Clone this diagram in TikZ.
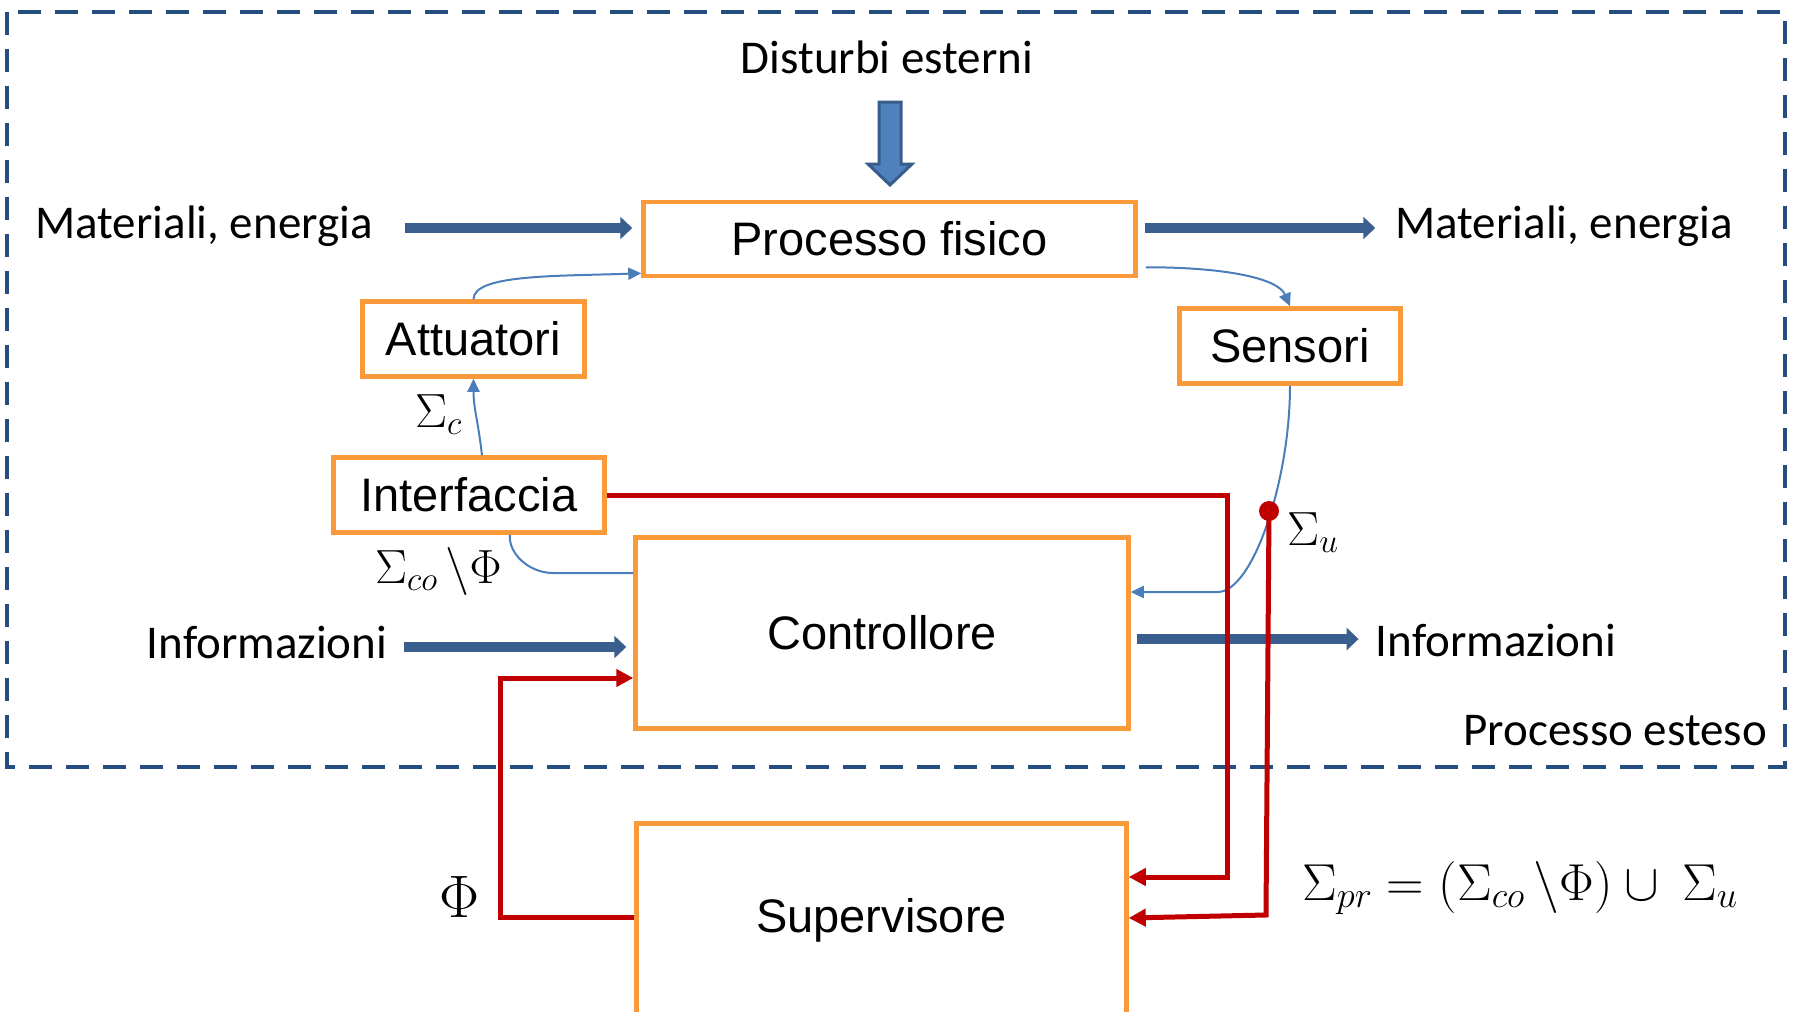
\RequirePackage{fix-cm}
\documentclass[tikz,border=0pt]{standalone}
\usepackage[no-math]{fontspec}
\setmainfont{Carlito}
\newfontfamily\arialf{Liberation Sans}
\usetikzlibrary{arrows.meta}
\definecolor{boxor}{HTML}{F9993A}
\definecolor{frameblue}{HTML}{264D80}
\definecolor{thickblue}{HTML}{3A5F8E}
\definecolor{thinblue}{HTML}{4A7EBB}
\definecolor{redc}{HTML}{C00000}
\definecolor{arrfill}{HTML}{4F81BD}
\definecolor{arrdraw}{HTML}{385D8A}
\tikzset{
  blk/.style={draw=boxor, line width=4.5pt, fill=white, font=\arialf\fontsize{47}{56}\selectfont, inner sep=0pt},
  lbl/.style={font=\fontsize{47}{56}\selectfont, inner sep=0pt, anchor=base},
  mlbl/.style={font=\fontsize{48}{56}\selectfont, inner sep=0pt, anchor=base west},
  bigarr/.style={draw=thickblue, line width=10pt, -{Triangle[length=12pt,width=22pt]}},
  thinarr/.style={draw=thinblue, line width=2pt, -{Triangle[length=13pt,width=12pt]}},
  thinline/.style={draw=thinblue, line width=2pt},
  redarr/.style={draw=redc, line width=5pt, -{Triangle[length=17pt,width=17pt]}},
  frame/.style={draw=frameblue, line width=4pt, dash pattern=on 23pt off 14pt},
}
\begin{document}
\begin{tikzpicture}[x=1pt,y=-1pt]
\useasboundingbox (0,0) rectangle (1794,1012);
\clip (0,0) rectangle (1794,1012);
\fill[white] (0,0) rectangle (1794,1012);

% extended process frame
\draw[frame] (7,12) rectangle (1785,767);

% boxes
\node[blk, minimum width=492, minimum height=74] (pf) at (889.5,239) {Processo fisico};
\node[blk, minimum width=222, minimum height=75] (att) at (473.5,339) {Attuatori};
\node[blk, minimum width=221, minimum height=75] (sens) at (1290,346) {Sensori};
\node[blk, minimum width=271, minimum height=75] (intf) at (469,495) {Interfaccia};
\node[blk, minimum width=493, minimum height=191] (ctrl) at (882,633) {Controllore};
\node[blk, minimum width=490, minimum height=193] (sup) at (881.5,920) {Supervisore};

% text labels
\node[lbl] (dist) at (887,73) {Disturbi esterni};
\node[lbl] (matL) at (204,238) {Materiali, energia};
\node[lbl] (matR) at (1564,238) {Materiali, energia};
\node[lbl] (infL) at (267,658) {Informazioni};
\node[lbl] (infR) at (1496,656) {Informazioni};
\node[lbl, anchor=base east] (pe) at (1767,745) {Processo esteso};

% math labels
\node[mlbl] (lsc) at (415,427) {$\Sigma_c$};
\node[mlbl] (lsco) at (375,583) {$\Sigma_{co}\,\backslash\Phi$};
\node[mlbl] (lsu) at (1287,545) {$\Sigma_u$};
\node[font=\fontsize{60}{70}\selectfont, inner sep=0pt] (lphi) at (460,897) {$\Phi$};
\node[mlbl, font=\fontsize{52}{60}\selectfont] (lform) at (1302,900) {$\Sigma_{pr} = (\Sigma_{co}\,\backslash\Phi)\cup\ \Sigma_u$};

% disturbance block arrow
\coordinate (da) at (890,102);
\filldraw[fill=arrfill, draw=arrdraw, line width=3pt, line join=miter]
  (da) ++(-11,0) -- ++(22,0) -- ++(0,62) -- ++(11,0) -- (890,185) -- (868,164) -- ++(11,0) -- cycle;

% thick flow arrows
\draw[bigarr, shorten <=32pt, shorten >=9pt] ([yshift=10pt]matL.base east) -- ([yshift=10pt]matL.base east -| pf.west);
\draw[bigarr, shorten <=7pt, shorten >=20pt] ([yshift=10pt]matR.base west -| pf.east) -- ([yshift=10pt]matR.base west);
\draw[bigarr, shorten <=17pt, shorten >=7pt] ([yshift=11pt]infL.base east) -- ([yshift=11pt]infL.base east -| ctrl.west);
\draw[bigarr, shorten <=6pt, shorten >=17pt] ([yshift=17pt]infR.base west -| ctrl.east) -- ([yshift=17pt]infR.base west);

% thin blue signal lines
\draw[thinarr] (att.north) .. controls +(0,-25) and +(-85,3) .. ([yshift=5pt]pf.south west);
\draw[thinarr] ([xshift=8pt,yshift=11pt]pf.south east) .. controls +(80,0) and +(-12,-28) .. (sens.north);
\draw[thinarr] ([xshift=13pt]intf.north) .. controls +(-4,-35) and +(0,30) .. (att.south);
\draw[thinline] ([yshift=60pt]ctrl.west) -- ++(-80,0) .. controls +(-25,0) and +(-2,18) .. ([xshift=41pt]intf.south);
\draw[thinarr] (sens.south) .. controls +(0,95) and +(35,0) .. ([xshift=87pt,yshift=41pt]ctrl.east) -- ([yshift=41pt]ctrl.east);

% red supervisory lines
\node[circle, fill=redc, inner sep=0pt, minimum size=20pt] (dot) at (1269,511) {};
\draw[redarr] (intf.east) -- ++(621,0) |- ([yshift=43pt]sup.east);
\draw[redarr] (dot.center) -- ++(-3,404) -- ([yshift=2pt]sup.east);
\draw[redarr] ([yshift=3pt]sup.west) -- ++(-134,0) |- ([yshift=-45pt]ctrl.west);
\end{tikzpicture}
\end{document}
